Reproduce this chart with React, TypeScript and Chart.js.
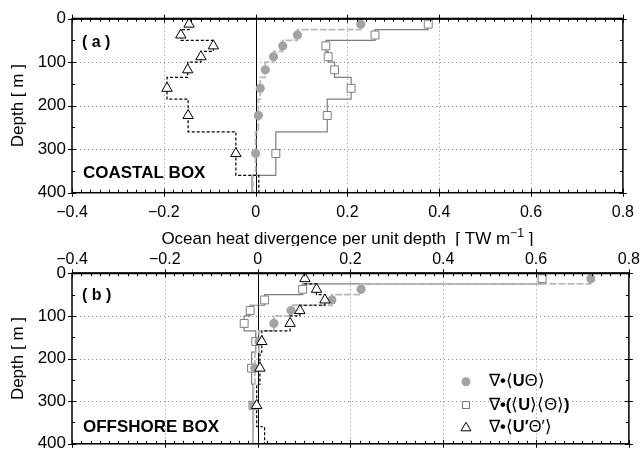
import React, { useEffect, useRef } from 'react';
import { Chart, registerables } from 'chart.js';
Chart.register(...registerables);

// ---------------- DATA ----------------
// layer boundaries (depth, m)
const layerBounds = [0, 25, 50, 75, 100, 135, 185, 260, 360, 400];
const markedLayers = 8; // layers that carry a marker

const xTicks = [-0.4, -0.2, 0, 0.2, 0.4, 0.6, 0.8];
const depthTicks = [0, 100, 200, 300, 400];

// (a) COASTAL BOX, TW m^-1
const coastalTotal = [0.229, 0.091, 0.059, 0.039, 0.021, 0.01, 0.006, 0.0, -0.006];
const coastalMean = [0.376, 0.26, 0.153, 0.158, 0.172, 0.208, 0.156, 0.044, -0.008];
const coastalEddy = [-0.145, -0.163, -0.092, -0.119, -0.148, -0.193, -0.147, -0.043, 0.007];

// (b) OFFSHORE BOX, TW m^-1
const offshoreTotal = [0.718, 0.223, 0.16, 0.072, 0.035, 0.003, -0.006, -0.009, -0.01];
const offshoreMean = [0.613, 0.097, 0.015, -0.016, -0.029, -0.004, -0.013, -0.01, -0.01];
const offshoreEddy = [0.102, 0.127, 0.145, 0.091, 0.07, 0.009, 0.005, -0.002, 0.015];

// ---------------- STYLE ----------------
const FONT = '"Liberation Sans", Arial, Helvetica, sans-serif';
const X_MIN = -0.4, X_MAX = 0.8, D_MIN = 0, D_MAX = 400;
const MINOR_X = 0.02, MINOR_Y = 50;

const fmt = (v: number) => {
  const r = Math.round(v * 10) / 10;
  if (r === 0) return '0';
  return r < 0 ? '\u2212' + Math.abs(r).toFixed(1) : r.toFixed(1);
};

function stepPoints(vals: number[]) {
  const pts: { x: number; y: number }[] = [];
  vals.forEach((v, i) => {
    pts.push({ x: v, y: layerBounds[i] });
    pts.push({ x: v, y: layerBounds[i + 1] });
  });
  return pts;
}
function markerPoints(vals: number[]) {
  return vals.slice(0, markedLayers).map((v, i) => ({ x: v, y: (layerBounds[i] + layerBounds[i + 1]) / 2 }));
}

const CIRCLE_FILL = '#a3a3a3';
const CIRCLE_LINE = '#b9b9b9';
const SQUARE_LINE = '#7d7d7d';

function buildDatasets(total: number[], mean: number[], eddy: number[]) {
  return [
    {
      data: markerPoints(eddy), showLine: false, pointStyle: 'triangle', pointRadius: 6,
      pointBackgroundColor: '#fff', pointBorderColor: '#000', pointBorderWidth: 1,
    },
    {
      data: markerPoints(total), showLine: false, pointStyle: 'circle', pointRadius: 4.6,
      pointBackgroundColor: CIRCLE_FILL, pointBorderColor: CIRCLE_FILL, pointBorderWidth: 0,
    },
    {
      data: markerPoints(mean), showLine: false, pointStyle: 'rect', pointRadius: 5.6,
      pointBackgroundColor: '#fff', pointBorderColor: SQUARE_LINE, pointBorderWidth: 1,
    },
    {
      data: stepPoints(eddy), showLine: true, pointRadius: 0, borderColor: '#000',
      borderWidth: 1.2, borderDash: [3, 2], fill: false,
    },
    {
      data: stepPoints(total), showLine: true, pointRadius: 0, borderColor: CIRCLE_LINE,
      borderWidth: 1.8, borderDash: [7, 2], fill: false,
    },
    {
      data: stepPoints(mean), showLine: true, pointRadius: 0, borderColor: SQUARE_LINE,
      borderWidth: 1.2, fill: false,
    },
  ];
}

type PanelCfg = {
  id: string;
  canvasTop: number;
  canvasHeight: number;
  xPos: 'top' | 'bottom';
  xAxisHeight: number;
  padTop: number;
  padBottom: number;
  tickPad: number;
  panelLabel: string;
  labelBaseline: number;
  boxLabel: string;
  boxBaseline: number;
  showTitle: boolean;
  showLegend: boolean;
  total: number[];
  mean: number[];
  eddy: number[];
};

function line(ctx: CanvasRenderingContext2D, x1: number, y1: number, x2: number, y2: number) {
  ctx.beginPath();
  ctx.moveTo(x1, y1);
  ctx.lineTo(x2, y2);
  ctx.stroke();
}

function drawSegments(ctx: CanvasRenderingContext2D, x: number, y: number, segs: [string, boolean][], size: number) {
  let cx = x;
  segs.forEach(([t, bold]) => {
    ctx.font = `${bold ? 'bold ' : ''}${size}px ${FONT}`;
    ctx.fillText(t, cx, y);
    cx += ctx.measureText(t).width;
  });
}

function makeDecor(cfg: PanelCfg) {
  return {
    id: 'decor_' + cfg.id,
    beforeDatasetsDraw(chart: any) {
      const { ctx, chartArea } = chart;
      const { left, right, top, bottom } = chartArea;
      const xs = chart.scales.x, ys = chart.scales.y;
      ctx.save();
      ctx.strokeStyle = '#8a8a8a';
      ctx.lineWidth = 1;
      ctx.setLineDash([1, 3]);
      xTicks.filter(v => v !== 0 && v > X_MIN && v < X_MAX).forEach(v => {
        const px = Math.round(xs.getPixelForValue(v)) + 0.5;
        line(ctx, px, top, px, bottom);
      });
      depthTicks.filter(v => v > D_MIN && v < D_MAX).forEach(v => {
        const py = Math.round(ys.getPixelForValue(v)) + 0.5;
        line(ctx, left, py, right, py);
      });
      ctx.setLineDash([]);
      ctx.strokeStyle = '#000';
      const zx = Math.round(xs.getPixelForValue(0)) + 0.5;
      line(ctx, zx, top, zx, bottom);
      ctx.restore();
    },
    afterDraw(chart: any) {
      const { ctx, chartArea } = chart;
      const { left, right, top, bottom } = chartArea;
      const xs = chart.scales.x, ys = chart.scales.y;
      ctx.save();
      ctx.strokeStyle = '#000';
      ctx.fillStyle = '#000';
      ctx.lineWidth = 1;
      // minor/major x ticks
      const nx = Math.round((X_MAX - X_MIN) / MINOR_X);
      for (let k = 0; k <= nx; k++) {
        const v = X_MIN + k * MINOR_X;
        const px = Math.round(xs.getPixelForValue(v)) + 0.5;
        const major = k % 10 === 0;
        if (major) {
          line(ctx, px, top - 4, px, top + 4);
          line(ctx, px, bottom - 4, px, bottom + 4);
        } else {
          line(ctx, px, top, px, top + 3);
          line(ctx, px, bottom, px, bottom - 3);
        }
      }
      const ny = Math.round((D_MAX - D_MIN) / MINOR_Y);
      for (let k = 0; k <= ny; k++) {
        const v = D_MIN + k * MINOR_Y;
        const py = Math.round(ys.getPixelForValue(v)) + 0.5;
        const major = k % 2 === 0;
        if (major) {
          line(ctx, left - 4, py, left + 4, py);
          line(ctx, right - 4, py, right + 4, py);
        } else {
          line(ctx, left, py, left + 3, py);
          line(ctx, right, py, right - 3, py);
        }
      }
      // frame
      ctx.lineWidth = 1.5;
      ctx.strokeRect(left, top, right - left, bottom - top);
      ctx.lineWidth = 2;
      if (cfg.xPos === 'bottom') line(ctx, left, top, right, top);
      else line(ctx, left, top, right, top);

      // y title
      ctx.save();
      ctx.translate(18, (top + bottom) / 2);
      ctx.rotate(-Math.PI / 2);
      ctx.textAlign = 'center';
      ctx.textBaseline = 'middle';
      ctx.font = `17px ${FONT}`;
      ctx.fillText('Depth [ m ]', 0, 0);
      ctx.restore();

      // panel labels
      ctx.textAlign = 'left';
      ctx.textBaseline = 'alphabetic';
      ctx.font = `bold 16px ${FONT}`;
      ctx.fillText(cfg.panelLabel, left + 10, cfg.labelBaseline);
      ctx.font = `bold 17px ${FONT}`;
      ctx.fillText(cfg.boxLabel, left + 11, cfg.boxBaseline);

      // x axis title
      if (cfg.showTitle) {
        const size = 17;
        const main = 'Ocean heat divergence per unit depth  [ TW m';
        const sup = '\u22121';
        const tail = ' ]';
        ctx.font = `${size}px ${FONT}`;
        const w1 = ctx.measureText(main).width;
        const w3 = ctx.measureText(tail).width;
        ctx.font = `${size * 0.72}px ${FONT}`;
        const w2 = ctx.measureText(sup).width;
        const cx = (left + right) / 2;
        let x0 = cx - (w1 + w2 + w3) / 2;
        const by = bottom + 51;
        ctx.font = `${size}px ${FONT}`;
        ctx.fillText(main, x0, by);
        x0 += w1;
        ctx.font = `${size * 0.72}px ${FONT}`;
        ctx.fillText(sup, x0, by - 7);
        x0 += w2;
        ctx.font = `${size}px ${FONT}`;
        ctx.fillText(tail, x0, by);
      }

      // legend
      if (cfg.showLegend) {
        const mx = 466;
        const rows = [135.7, 159, 181.3];
        const tx = 489;
        ctx.textBaseline = 'middle';
        // circle
        ctx.fillStyle = CIRCLE_FILL;
        ctx.beginPath();
        ctx.arc(mx, rows[0], 4.5, 0, Math.PI * 2);
        ctx.fill();
        // square
        ctx.strokeStyle = SQUARE_LINE;
        ctx.lineWidth = 1;
        ctx.fillStyle = '#fff';
        ctx.fillRect(mx - 4, rows[1] - 4, 8, 8);
        ctx.strokeRect(mx - 3.5, rows[1] - 3.5, 7, 7);
        // triangle
        ctx.strokeStyle = '#000';
        ctx.beginPath();
        ctx.moveTo(mx, rows[2] - 5);
        ctx.lineTo(mx + 5, rows[2] + 3.5);
        ctx.lineTo(mx - 5, rows[2] + 3.5);
        ctx.closePath();
        ctx.stroke();
        ctx.fillStyle = '#000';
        const s = 16.5;
        drawSegments(ctx, tx, rows[0], [['\u2207', false], ['\u2022', true], ['\u27E8', false], ['U', true], ['\u0398\u27E9', false]], s);
        drawSegments(ctx, tx, rows[1], [['\u2207', false], ['\u2022(', true], ['\u27E8', false], ['U', true], ['\u27E9\u27E8\u0398\u27E9', false], [')', true]], s);
        drawSegments(ctx, tx, rows[2], [['\u2207', false], ['\u2022', true], ['\u27E8', false], ['U\u2032', true], ['\u0398\u2032\u27E9', false]], s);
      }
      ctx.restore();
    },
  };
}

function Panel({ cfg }: { cfg: PanelCfg }) {
  const ref = useRef<HTMLCanvasElement | null>(null);
  useEffect(() => {
    if (!ref.current) return;
    const chart = new Chart(ref.current, {
      type: 'scatter',
      data: { datasets: buildDatasets(cfg.total, cfg.mean, cfg.eddy) as any },
      options: {
        responsive: false,
        animation: false,
        maintainAspectRatio: false,
        layout: { padding: { left: 0, right: 15, top: cfg.padTop, bottom: cfg.padBottom } },
        plugins: { legend: { display: false }, tooltip: { enabled: false } },
        scales: {
          x: {
            type: 'linear',
            position: cfg.xPos,
            min: X_MIN,
            max: X_MAX,
            afterBuildTicks: (s: any) => { s.ticks = xTicks.map(v => ({ value: v })); },
            afterFit: (s: any) => { s.height = cfg.xAxisHeight; },
            grid: { display: false, drawTicks: false },
            border: { display: false },
            ticks: {
              padding: cfg.tickPad,
              color: '#000',
              font: { family: FONT, size: 16 },
              maxRotation: 0,
              autoSkip: false,
              callback: (v: any) => fmt(Number(v)),
            },
          },
          y: {
            type: 'linear',
            reverse: true,
            min: D_MIN,
            max: D_MAX,
            afterBuildTicks: (s: any) => { s.ticks = depthTicks.map(v => ({ value: v })); },
            afterFit: (s: any) => { s.width = 72; },
            grid: { display: false, drawTicks: false },
            border: { display: false },
            ticks: {
              padding: 6,
              color: '#000',
              font: { family: FONT, size: 17 },
              autoSkip: false,
              callback: (v: any) => String(v),
            },
          },
        },
      } as any,
      plugins: [makeDecor(cfg) as any],
    });
    return () => chart.destroy();
  }, []);
  return (
    <canvas
      ref={ref}
      width={644}
      height={cfg.canvasHeight}
      style={{ position: 'absolute', left: 0, top: cfg.canvasTop, width: 644, height: cfg.canvasHeight }}
    />
  );
}

const coastalCfg: PanelCfg = {
  id: 'a', canvasTop: 0, canvasHeight: 246, xPos: 'bottom', xAxisHeight: 53.3, padTop: 18.7, padBottom: 0,
  tickPad: 10, panelLabel: '( a )', labelBaseline: 47, boxLabel: 'COASTAL BOX', boxBaseline: 178.3,
  showTitle: true, showLegend: false, total: coastalTotal, mean: coastalMean, eddy: coastalEddy,
};
const offshoreCfg: PanelCfg = {
  id: 'b', canvasTop: 246, canvasHeight: 214, xPos: 'top', xAxisHeight: 27.3, padTop: 0, padBottom: 13.3,
  tickPad: 4, panelLabel: '( b )', labelBaseline: 54, boxLabel: 'OFFSHORE BOX', boxBaseline: 185.7,
  showTitle: false, showLegend: true, total: offshoreTotal, mean: offshoreMean, eddy: offshoreEddy,
};

export default function App() {
  return (
    <div style={{ position: 'absolute', left: 0, top: 0, width: 644, height: 453, overflow: 'hidden', background: '#fff' }}>
      <Panel cfg={coastalCfg} />
      <Panel cfg={offshoreCfg} />
    </div>
  );
}
